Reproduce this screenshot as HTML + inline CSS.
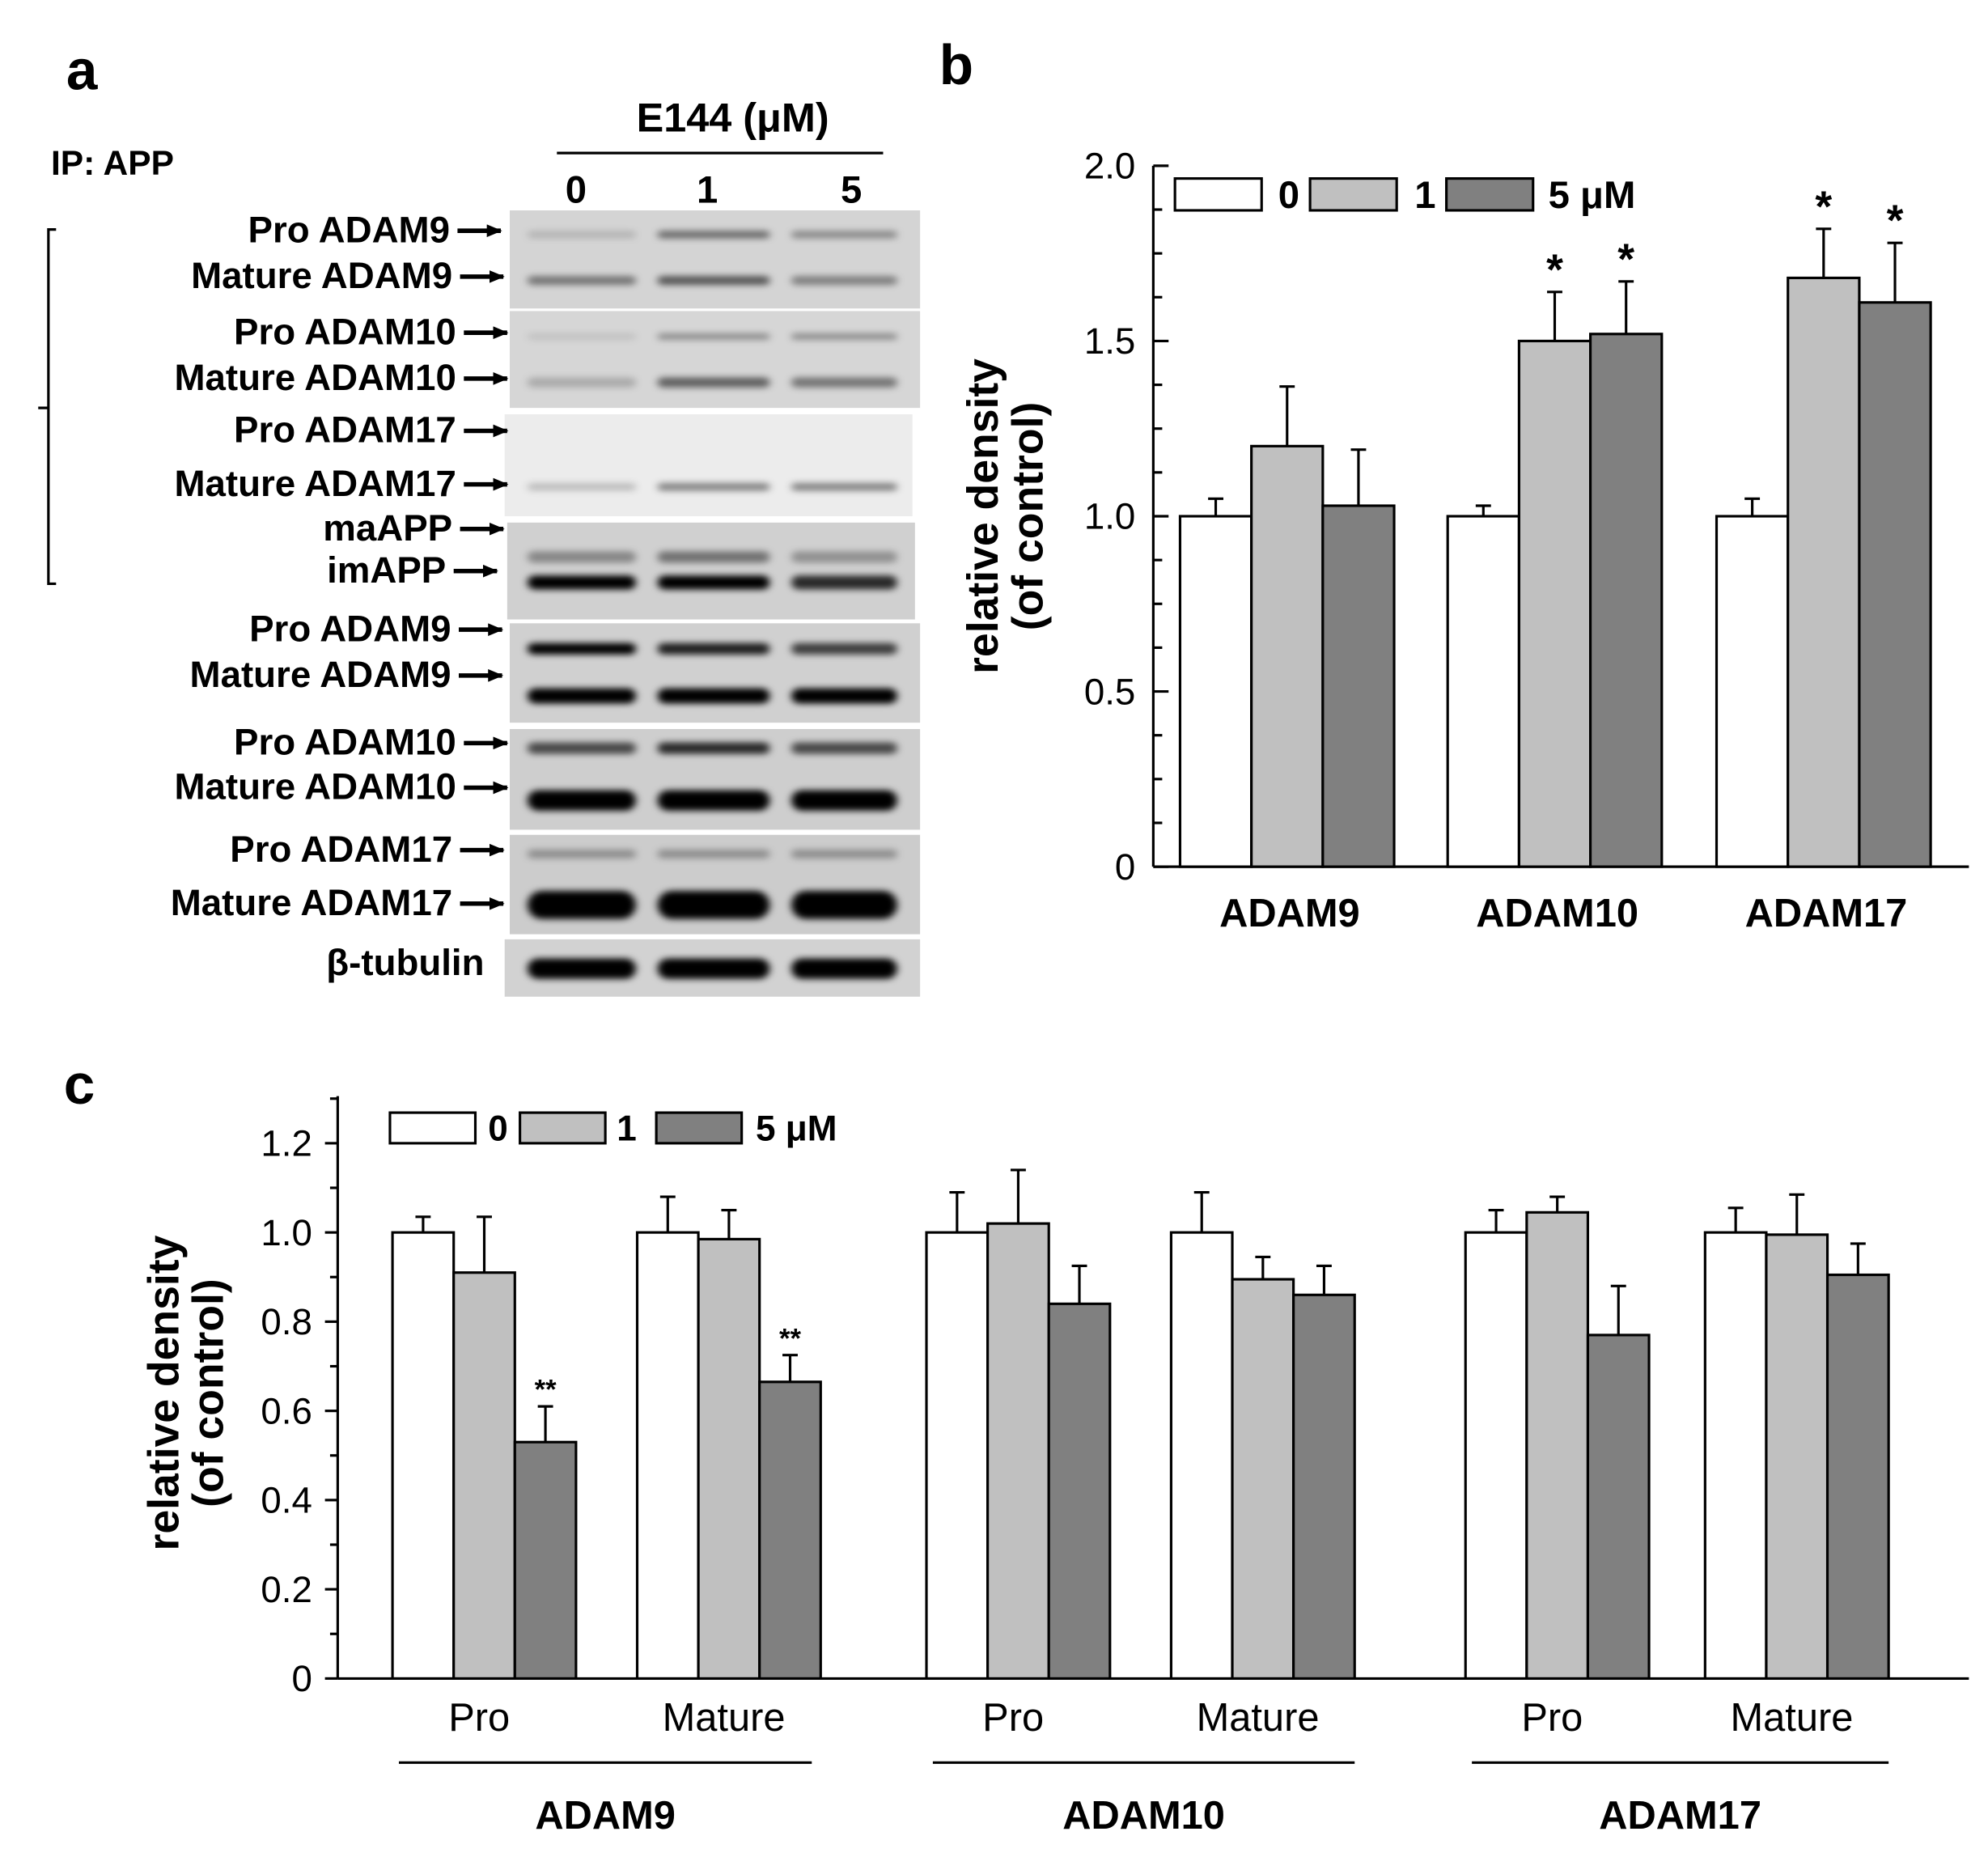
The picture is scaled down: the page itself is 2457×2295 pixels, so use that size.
<!DOCTYPE html>
<html><head><meta charset="utf-8"><style>
html,body{margin:0;padding:0;background:#fff}
svg{display:block}
text{font-family:"Liberation Sans",Arial,sans-serif;font-weight:bold;fill:#000}
text.n{font-weight:normal}
</style></head><body>
<svg id="fig" xmlns="http://www.w3.org/2000/svg" width="2457" height="2295" viewBox="0 0 1560 1457">
<defs>
<filter id="bl" x="-20%" y="-100%" width="140%" height="300%"><feGaussianBlur stdDeviation="3 2.5"/></filter>
<marker id="ar" markerWidth="12" markerHeight="10" refX="11" refY="5" orient="auto" markerUnits="userSpaceOnUse"><path d="M0,0 L12,5 L0,10z" fill="#000"/></marker>
</defs>
<text x="52" y="70" font-size="44">a</text>
<text x="737" y="66" font-size="44">b</text>
<text x="50" y="866" font-size="44">c</text>
<g id="blots"></g>
<g id="chartB"></g>
<g id="chartC"></g>
</svg>
<script>
// ---------- Chart b data ----------
const bCategories = ["ADAM9","ADAM10","ADAM17"];
const bSeries0 = [1.0,1.0,1.0];
const bSeries1 = [1.2,1.5,1.68];
const bSeries5 = [1.03,1.52,1.61];
const bErr0 = [0.05,0.03,0.05];
const bErr1 = [0.17,0.14,0.14];
const bErr5 = [0.16,0.15,0.17];
const bStars1 = ["","*","*"];
const bStars5 = ["","*","*"];
const bTicks = [0,0.5,1.0,1.5,2.0];
const bTickLabels = ["0","0.5","1.0","1.5","2.0"];
// ---------- Chart c data ----------
const cSub = ["Pro","Mature","Pro","Mature","Pro","Mature"];
const cGroups = ["ADAM9","ADAM10","ADAM17"];
const cSeries0 = [1.0,1.0,1.0,1.0,1.0,1.0];
const cSeries1 = [0.91,0.985,1.02,0.895,1.045,0.995];
const cSeries5 = [0.53,0.665,0.84,0.86,0.77,0.905];
const cErr0 = [0.035,0.08,0.09,0.09,0.05,0.055];
const cErr1 = [0.125,0.065,0.12,0.05,0.035,0.09];
const cErr5 = [0.08,0.06,0.085,0.065,0.11,0.07];
const cStars5 = ["**","**","","","",""];
const cTicks = [0,0.2,0.4,0.6,0.8,1.0,1.2];
const cTickLabels = ["0","0.2","0.4","0.6","0.8","1.0","1.2"];

const NS="http://www.w3.org/2000/svg";
function mk(parent,tag,attrs,txt){const e=document.createElementNS(NS,tag);for(const k in attrs)e.setAttribute(k,attrs[k]);if(txt!==undefined)e.textContent=txt;parent.appendChild(e);return e;}
const fills=["#ffffff","#c0c0c0","#808080"];

// ---- chart b ----
(function(){
 const g=document.getElementById('chartB');
 const x0=905,yb=680,yt=130,vmax=2.0;
 const y=v=>yb-(v/vmax)*(yb-yt);
 const groupStart=[926,1136,1347], bw=56;
 let e=mk(g,'line',{x1:x0,y1:yt,x2:x0,y2:yb,stroke:'#000','stroke-width':2});
 
 e=mk(g,'line',{x1:x0,y1:yb,x2:1545,y2:yb,stroke:'#000','stroke-width':2});
 
 for(let v=0;v<=2.0001;v+=0.125){const major=Math.abs(v*2-Math.round(v*2))<1e-6;mk(g,'line',{x1:x0,y1:y(v),x2:x0+(major?12:7),y2:y(v),stroke:'#000','stroke-width':2});}
 bTicks.forEach((v,i)=>{e=mk(g,'text',{x:x0-14,y:y(v)+10,'font-size':29,'text-anchor':'end','class':'n'},bTickLabels[i]);
  });
 const series=[bSeries0,bSeries1,bSeries5],errs=[bErr0,bErr1,bErr5];
 bCategories.forEach((c,i)=>{
  series.forEach((s,j)=>{
   const bx=groupStart[i]+j*bw;
   e=mk(g,'line',{x1:bx+bw/2,y1:y(s[i]),x2:bx+bw/2,y2:y(s[i]+errs[j][i]),stroke:'#000','stroke-width':2});
   
   mk(g,'line',{x1:bx+bw/2-6,y1:y(s[i]+errs[j][i]),x2:bx+bw/2+6,y2:y(s[i]+errs[j][i]),stroke:'#000','stroke-width':2});
   e=mk(g,'rect',{x:bx,y:y(s[i]),width:bw,height:yb-y(s[i]),fill:fills[j],stroke:'#000','stroke-width':2});
   
  });
  const st=[null,bStars1,bStars5];
  [1,2].forEach(j=>{if(st[j][i]){const bx=groupStart[i]+j*bw;e=mk(g,'text',{x:bx+bw/2,y:y(series[j][i]+errs[j][i])-6,'font-size':34,'text-anchor':'middle'},st[j][i]);
   }});
  e=mk(g,'text',{x:groupStart[i]+bw*1.5+2,y:727,'font-size':31,'text-anchor':'middle'},c);
  
 });
 e=mk(g,'text',{transform:'translate(783,405) rotate(-90)','font-size':34,'text-anchor':'middle'},'relative density');
 
 mk(g,'text',{transform:'translate(818,405) rotate(-90)','font-size':34,'text-anchor':'middle'},'(of control)');
 const lg=[[922,'0',1003],[1028,'1',1110],[1135,'5 μM',1215]];
 lg.forEach((l,j)=>{e=mk(g,'rect',{x:l[0],y:140,width:68,height:25,fill:fills[j],stroke:'#000','stroke-width':2});
  
  e=mk(g,'text',{x:l[2],y:163,'font-size':30},l[1]);});
})();

// ---- chart c ----
(function(){
 const g=document.getElementById('chartC');
 const x0=265,yb=1317,vmax=1.2,yt12=897;
 const y=v=>yb-(v/vmax)*(yb-yt12);
 const starts=[308,500,727,919,1150,1338], bw=48;
 let e=mk(g,'line',{x1:x0,y1:860,x2:x0,y2:yb,stroke:'#000','stroke-width':2});
 
 e=mk(g,'line',{x1:x0,y1:yb,x2:1545,y2:yb,stroke:'#000','stroke-width':2});
 
 for(let v=0;v<=1.30001;v+=0.1){const major=Math.round(v*10)%2===0;mk(g,'line',{x1:x0,y1:y(v),x2:x0-(major?10:6),y2:y(v),stroke:'#000','stroke-width':2});}
 cTicks.forEach((v,i)=>{e=mk(g,'text',{x:x0-20,y:y(v)+10,'font-size':29,'text-anchor':'end','class':'n'},cTickLabels[i]);
  });
 const series=[cSeries0,cSeries1,cSeries5],errs=[cErr0,cErr1,cErr5];
 cSub.forEach((c,i)=>{
  series.forEach((s,j)=>{
   const bx=starts[i]+j*bw;
   e=mk(g,'line',{x1:bx+bw/2,y1:y(s[i]),x2:bx+bw/2,y2:y(s[i]+errs[j][i]),stroke:'#000','stroke-width':2});
   
   mk(g,'line',{x1:bx+bw/2-6,y1:y(s[i]+errs[j][i]),x2:bx+bw/2+6,y2:y(s[i]+errs[j][i]),stroke:'#000','stroke-width':2});
   e=mk(g,'rect',{x:bx,y:y(s[i]),width:bw,height:yb-y(s[i]),fill:fills[j],stroke:'#000','stroke-width':2});
   
  });
  if(cStars5[i]){const bx=starts[i]+2*bw;e=mk(g,'text',{x:bx+bw/2,y:y(cSeries5[i]+cErr5[i])-6,'font-size':22,'text-anchor':'middle'},cStars5[i]);
   }
  e=mk(g,'text',{x:starts[i]+bw*1.5-4,y:1358,'font-size':31,'text-anchor':'middle','class':'n'},c);
  
 });
 cGroups.forEach((gname,k)=>{
  const a=starts[2*k]+5,b=starts[2*k+1]+3*bw+(k==0?-7:0);
  e=mk(g,'line',{x1:a,y1:1383,x2:b,y2:1383,stroke:'#000','stroke-width':2});
  
  e=mk(g,'text',{x:(a+b)/2,y:1435,'font-size':31,'text-anchor':'middle'},gname);
  
 });
 e=mk(g,'text',{transform:'translate(140,1093) rotate(-90)','font-size':34,'text-anchor':'middle'},'relative density');
 
 mk(g,'text',{transform:'translate(175,1093) rotate(-90)','font-size':34,'text-anchor':'middle'},'(of control)');
 const lg=[[306,'0',383],[408,'1',484],[515,'5 μM',593]];
 lg.forEach((l,j)=>{e=mk(g,'rect',{x:l[0],y:873,width:67,height:24,fill:fills[j],stroke:'#000','stroke-width':2});
  
  e=mk(g,'text',{x:l[2],y:895,'font-size':28},l[1]);});
})();

// ---- blots ----
(function(){
 const g=document.getElementById('blots');
 let e;
 e=mk(g,'text',{x:575,y:103,'font-size':32,'text-anchor':'middle'},'E144 (μM)');
 mk(g,'line',{x1:437,y1:120,x2:693,y2:120,stroke:'#000','stroke-width':2});
 [['0',452],['1',555],['5',668]].forEach(l=>{e=mk(g,'text',{x:l[1],y:159,'font-size':30,'text-anchor':'middle'},l[0]);});
 e=mk(g,'text',{x:40,y:137,'font-size':27},'IP: APP');
 mk(g,'path',{d:'M44,180 H38 V458 H44 M38,320 H30',fill:'none',stroke:'#000','stroke-width':2});
 const lanes=[[408,505],[510,610],[615,710]];
 const blots=[
  [165,242,'#d4d4d4',400,722,[[184,6,[0.15,0.5,0.35]],[220,7,[0.45,0.6,0.4]]]],
  [244,320,'#d6d6d6',400,722,[[264,5,[0.1,0.35,0.35]],[300,8,[0.2,0.55,0.45]]]],
  [325,405,'#ececec',396,716,[[382,6,[0.2,0.45,0.45]]]],
  [410,486,'#d0d0d0',398,718,[[437,9,[0.35,0.45,0.3]],[457,11,[1,1,0.8]]]],
  [489,567,'#d0d0d0',400,722,[[509,9,[1,0.85,0.7]],[546,12,[1,1,1]]]],
  [572,651,'#cecece',400,722,[[587,9,[0.65,0.8,0.65]],[628,16,[1,1,1]]]],
  [655,733,'#cccccc',400,722,[[670,7,[0.3,0.3,0.3]],[710,22,[1,1,1]]]],
  [737,782,'#d2d2d2',396,722,[[760,16,[1,1,1]]]]
 ];
 blots.forEach((b,i)=>{
  e=mk(g,'rect',{x:b[3],y:b[0],width:b[4]-b[3],height:b[1]-b[0],fill:b[2]});
  
  b[5].forEach(bd=>{lanes.forEach((ln,k)=>{const a=bd[2][k];
   e=mk(g,'rect',{x:ln[0]+6,y:bd[0]-bd[1]/2,width:ln[1]-ln[0]-12,height:bd[1],rx:bd[1]/2,fill:'#000','fill-opacity':a,filter:'url(#bl)'});
   });});
 });
 const labels=[['Pro ADAM9',190,353],['Mature ADAM9',226,355],['Pro ADAM10',270,358],['Mature ADAM10',306,358],
  ['Pro ADAM17',347,358],['Mature ADAM17',389,358],['maAPP',424,355],['imAPP',457,350],
  ['Pro ADAM9',503,354],['Mature ADAM9',539,354],['Pro ADAM10',592,358],['Mature ADAM10',627,358],
  ['Pro ADAM17',676,355],['Mature ADAM17',718,355]];
 labels.forEach(l=>{
  e=mk(g,'text',{x:l[2],y:l[1],'font-size':29,'text-anchor':'end'},l[0]);
  e=mk(g,'line',{x1:l[2]+6,y1:l[1]-9,x2:l[2]+40,y2:l[1]-9,stroke:'#000','stroke-width':3.5,'marker-end':'url(#ar)'});
  
 });
 e=mk(g,'text',{x:380,y:765,'font-size':29,'text-anchor':'end'},'β-tubulin');
})();
</script>
</body></html>
